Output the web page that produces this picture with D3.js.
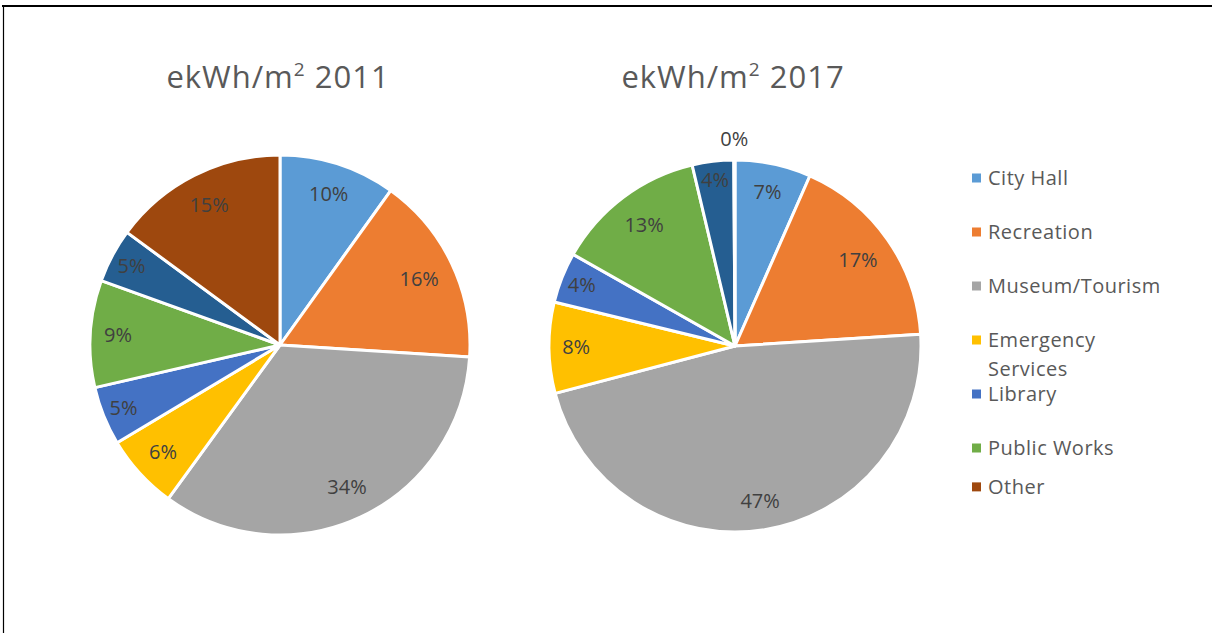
<!DOCTYPE html>
<html>
<head>
<meta charset="utf-8">
<script src="https://cdn.jsdelivr.net/npm/d3@7"></script>
<style>
  html, body { margin: 0; padding: 0; background: #fff; }
  svg { display: block; font-family: "Open Sans", "Noto Sans", sans-serif; }
</style>
</head>
<body>
<div id="chart"></div>
<script>
// categories in pie order (clockwise from 12 o'clock)
const categories = [
  "City Hall",
  "Recreation",
  "Museum/Tourism",
  "Emergency Services",
  "Library",
  "Public Works",
  "Unlabelled",
  "Other",
];
const colors = ["#5B9BD5", "#ED7D31", "#A5A5A5", "#FFC000", "#4472C4", "#70AD47", "#255E91", "#9E480E"];

// share of ekWh/m2, percent
const values2011 = [9.9, 16.1, 34.0, 6.4, 5.0, 9.1, 4.6, 14.9];
const values2017 = [6.6, 17.4, 46.9, 7.9, 4.4, 13.1, 3.6, 0.1];

// legend shows only these (the dark blue slice has no entry)
const legendItems = [
  { name: "City Hall", lines: ["City Hall"], row: 0 },
  { name: "Recreation", lines: ["Recreation"], row: 1 },
  { name: "Museum/Tourism", lines: ["Museum/Tourism"], row: 2 },
  { name: "Emergency Services", lines: ["Emergency", "Services"], row: 3 },
  { name: "Library", lines: ["Library"], row: 4 },
  { name: "Public Works", lines: ["Public Works"], row: 5 },
  { name: "Other", lines: ["Other"], row: 5.72 },
];

const W = 1212, H = 633;
const svg = d3.select("#chart").append("svg").attr("width", W).attr("height", H);

// frame
svg.append("line").attr("x1", 2).attr("x2", W).attr("y1", 6).attr("y2", 6)
  .attr("stroke", "#000").attr("stroke-width", 2);
svg.append("line").attr("x1", 3.5).attr("x2", 3.5).attr("y1", 6).attr("y2", H)
  .attr("stroke", "#000").attr("stroke-width", 1.2);

const color = d3.scaleOrdinal().domain(categories).range(colors);
const fmt = (v) => Math.round(v) + "%";

const pie = d3.pie().sort(null).value((d) => d.value);

function drawPie(values, title, cx, cy, r) {
  const data = categories.map((c, i) => ({ name: c, value: values[i] }));
  const arcs = pie(data);
  const arc = d3.arc().innerRadius(0).outerRadius(r);

  svg.append("text")
    .attr("x", cx - 2).attr("y", 88)
    .attr("text-anchor", "middle")
    .attr("fill", "#595959")
    .attr("font-size", 31)
    .attr("letter-spacing", 1)
    .call((t) => {
      t.append("tspan").text("ekWh/m");
      t.append("tspan").attr("font-size", 19).attr("dy", -12).text("2");
      t.append("tspan").attr("dy", 12).text(" " + title);
    });

  const g = svg.append("g").attr("transform", `translate(${cx},${cy})`);
  g.selectAll("path")
    .data(arcs)
    .join("path")
    .attr("d", arc)
    .attr("fill", (d) => color(d.data.name))
    .attr("stroke", "#fff")
    .attr("stroke-width", 3)
    .attr("stroke-linejoin", "round");

  g.selectAll("text.lbl")
    .data(arcs)
    .join("text")
    .attr("class", "lbl")
    .attr("text-anchor", "middle")
    .attr("dy", "0.35em")
    .attr("font-size", 20)
    .attr("fill", "#404040")
    .attr("transform", (d) => {
      const a = (d.startAngle + d.endAngle) / 2;
      const span = d.endAngle - d.startAngle;
      let rr;
      if (span < 0.05) {
        rr = r + 21; // too thin: label goes outside
      } else {
        const w = fmt(d.data.value).length * 12;
        const h = 22;
        rr = r - 15 - (w / 2) * Math.abs(Math.sin(a)) - (h / 2) * Math.abs(Math.cos(a));
        if (span < 0.4) rr += 9;
      }
      return `translate(${Math.sin(a) * rr},${-Math.cos(a) * rr})`;
    })
    .text((d) => fmt(d.data.value));
}

drawPie(values2011, "2011", 280, 345, 190);
drawPie(values2017, "2017", 735, 346, 186);

// legend
const legendY = d3.scaleLinear().domain([0, 1]).range([178, 232]);
const lg = svg.append("g");
const item = lg.selectAll("g").data(legendItems).join("g")
  .attr("transform", (d) => `translate(972,${legendY(d.row)})`);
item.append("rect")
  .attr("x", 0).attr("y", -4.5).attr("width", 9).attr("height", 9)
  .attr("fill", (d) => color(d.name));
item.each(function (d) {
  d3.select(this).selectAll("text").data(d.lines).join("text")
    .attr("x", 16).attr("y", (l, i) => i * 29)
    .attr("dy", "0.36em")
    .attr("font-size", 20)
    .attr("letter-spacing", 0.5)
    .attr("fill", "#595959")
    .text((l) => l);
});
</script>
</body>
</html>
